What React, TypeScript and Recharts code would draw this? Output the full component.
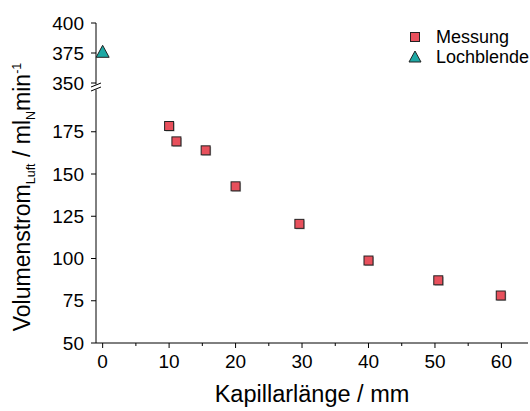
import React from "react";
import { Legend, Scatter, ScatterChart, XAxis, YAxis } from "recharts";

// Messung: capillary length (mm) vs. air flow (ml_N/min)
const capillaryLengths = [10, 11.1, 15.5, 20, 29.6, 40, 50.5, 59.9];
const flowRates = [178.4, 169.3, 164, 142.7, 120.5, 98.8, 87.1, 78.1];

// Lochblende (orifice), plotted at length 0
const orificeLengths = [0];
const orificeFlows = [376];

const xTicks = [0, 5, 10, 15, 20, 25, 30, 35, 40, 45, 50, 55, 60];
const lowerTicks = [50, 75, 100, 125, 150, 175];
const upperTicks = [350, 375, 400];
const seriesOrder = ["Messung", "Lochblende"];

const RED = "#E8505C";
const TEAL = "#1DA8A4";
const FONT = "'Liberation Sans', Arial, sans-serif";

const messung = capillaryLengths.map((x, i) => ({ x, y: flowRates[i] }));
const lochblende = orificeLengths.map((x, i) => ({ x, y: orificeFlows[i] }));

const WIDTH = 530;
const HEIGHT = 411;
const Y_AXIS_W = 96;
const RIGHT = 2;

function Square({ cx, cy }: any) {
  if (cx == null || cy == null) return null;
  return (
    <g>
      <rect x={cx - 3.5} y={cy - 3.5} width={9} height={9} fill="#bbb" />
      <rect x={cx - 4.5} y={cy - 4.5} width={9} height={9} fill={RED} stroke="#222" strokeWidth={1} />
    </g>
  );
}

function Triangle({ cx, cy }: any) {
  if (cx == null || cy == null) return null;
  return (
    <polygon
      points={`${cx},${cy - 6.5} ${cx - 6.5},${cy + 5.5} ${cx + 6.5},${cy + 5.5}`}
      fill={TEAL}
      stroke="#222"
      strokeWidth={1}
    />
  );
}

function XTick({ x, y, payload }: any) {
  const major = payload.value % 10 === 0;
  return (
    <g>
      <line x1={x} x2={x} y1={y} y2={y + (major ? 5 : 3)} stroke="#000" />
      {major && (
        <text x={x} y={y + 25} textAnchor="middle" fontSize={19} fill="#000">
          {payload.value}
        </text>
      )}
    </g>
  );
}

function LegendBox({ payload }: any) {
  const items = [...(payload || [])].sort(
    (a: any, b: any) => seriesOrder.indexOf(a.value) - seriesOrder.indexOf(b.value)
  );
  return (
    <div style={{ fontFamily: FONT, fontSize: 18, color: "#000", lineHeight: "20px", whiteSpace: "nowrap" }}>
      {items.map((entry: any) => (
        <div key={entry.value} style={{ display: "flex", alignItems: "center", height: 20 }}>
          <svg width={16} height={14}>
            {entry.value === "Messung" ? (
              <rect x={3.5} y={2.5} width={9} height={9} fill={RED} stroke="#222" />
            ) : (
              <polygon points="8,1 2,12 14,12" fill={TEAL} stroke="#222" />
            )}
          </svg>
          <span style={{ marginLeft: 13 }}>{entry.value}</span>
        </div>
      ))}
    </div>
  );
}

export default function App() {
  const axisTick = { fill: "#000", fontSize: 19 };
  return (
    <div
      style={{
        position: "absolute",
        left: 0,
        top: 0,
        width: WIDTH,
        height: HEIGHT,
        background: "#fff",
        fontFamily: FONT,
        overflow: "hidden",
      }}
    >
      {/* lower segment: 50 – 200 */}
      <div style={{ position: "absolute", left: 0, top: 0 }}>
        <ScatterChart
          width={WIDTH}
          height={HEIGHT}
          margin={{ top: 89.5, right: RIGHT, bottom: 0, left: 0 }}
        >
          <XAxis
            type="number"
            dataKey="x"
            domain={[-1, 64]}
            ticks={xTicks}
            interval={0}
            height={68}
            tickSize={0}
            tickMargin={0}
            tickLine={false}
            tick={<XTick />}
            stroke="#000"
            label={{
              value: "Kapillarlänge / mm",
              position: "insideBottom",
              offset: 9,
              fill: "#000",
              fontSize: 23.5,
            }}
          />
          <YAxis
            type="number"
            dataKey="y"
            domain={[50, 200]}
            ticks={lowerTicks}
            interval={0}
            allowDataOverflow
            width={Y_AXIS_W}
            tickSize={5}
            tickMargin={7}
            tick={axisTick}
            stroke="#000"
          />
          <Legend
            layout="vertical"
            align="center"
            verticalAlign="middle"
            content={<LegendBox />}
            wrapperStyle={{ left: 407, top: 27, width: "auto" }}
          />
          <Scatter
            name="Messung"
            data={messung}
            fill={RED}
            shape={<Square />}
            isAnimationActive={false}
          />
          <Scatter
            name="Lochblende"
            data={lochblende}
            fill={TEAL}
            shape={<Triangle />}
            isAnimationActive={false}
          />
        </ScatterChart>
      </div>

      {/* upper segment: 350 – 400 */}
      <div style={{ position: "absolute", left: 0, top: 0 }}>
        <ScatterChart
          width={WIDTH}
          height={100}
          margin={{ top: 23, right: RIGHT, bottom: 17, left: 0 }}
        >
          <XAxis
            type="number"
            dataKey="x"
            domain={[-1, 64]}
            orientation="top"
            height={0}
            tick={false}
            tickLine={false}
            stroke="#000"
          />
          <YAxis
            type="number"
            dataKey="y"
            domain={[350, 400]}
            ticks={upperTicks}
            interval={0}
            allowDataOverflow
            width={Y_AXIS_W}
            tickSize={5}
            tickMargin={7}
            tick={axisTick}
            stroke="#000"
          />
          <Scatter
            name="Lochblende"
            data={lochblende}
            fill={TEAL}
            shape={<Triangle />}
            isAnimationActive={false}
          />
        </ScatterChart>
      </div>

      {/* axis break and y title */}
      <svg
        width={WIDTH}
        height={HEIGHT}
        style={{ position: "absolute", left: 0, top: 0, pointerEvents: "none" }}
      >
        <line x1={96} x2={96} y1={83} y2={84.5} stroke="#000" />
        <line x1={91} x2={101} y1={87} y2={83} stroke="#000" />
        <line x1={91} x2={101} y1={91} y2={87} stroke="#000" />
        <text
          transform="translate(30, 197) rotate(-90)"
          textAnchor="middle"
          fontSize={23}
          fill="#000"
        >
          Volumenstrom
          <tspan fontSize={12.5} dy={5}>Luft</tspan>
          <tspan dy={-5}> / ml</tspan>
          <tspan fontSize={12.5} dy={5}>N</tspan>
          <tspan dy={-5}>min</tspan>
          <tspan fontSize={12.5} dy={-9}>-1</tspan>
        </text>
      </svg>
    </div>
  );
}
